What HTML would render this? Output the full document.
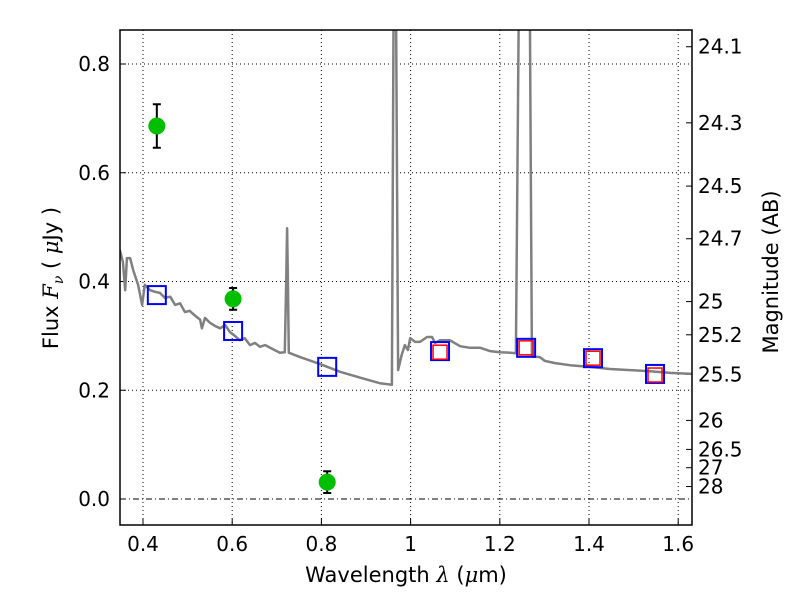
<!DOCTYPE html>
<html><head><meta charset="utf-8"><style>
html,body{margin:0;padding:0;background:#fff;}
svg{display:block;font-family:"DejaVu Sans","Liberation Sans",sans-serif;}
</style></head><body>
<svg id="chart" width="800" height="600" viewBox="0 0 800 600"></svg>
<script>
const xTicks=[0.4,0.6,0.8,1.0,1.2,1.4,1.6];
const xTickLabels=["0.4","0.6","0.8","1","1.2","1.4","1.6"];
const yTicks=[0.0,0.2,0.4,0.6,0.8];
const yTickLabels=["0.0","0.2","0.4","0.6","0.8"];
const magTicks=[24.1,24.3,24.5,24.7,25,25.2,25.5,26,26.5,27,28];
const specLam=[0.348,0.355,0.360,0.364,0.371,0.378,0.389,0.398,0.404,0.416,0.427,0.438,0.449,0.461,0.472,0.483,0.494,0.505,0.517,0.528,0.532,0.539,0.550,0.562,0.573,0.584,0.595,0.606,0.617,0.628,0.640,0.651,0.662,0.674,0.690,0.707,0.718,0.721,0.723,0.725,0.727,0.752,0.797,0.842,0.887,0.931,0.958,0.962,0.967,0.972,0.980,0.987,0.994,0.999,1.010,1.021,1.037,1.048,1.055,1.066,1.088,1.111,1.133,1.156,1.178,1.200,1.223,1.236,1.243,1.248,1.254,1.262,1.267,1.272,1.290,1.301,1.324,1.357,1.402,1.447,1.492,1.537,1.582,1.631];
const specFlux=[0.458,0.436,0.384,0.443,0.443,0.421,0.394,0.357,0.394,0.384,0.381,0.379,0.370,0.372,0.357,0.360,0.344,0.346,0.337,0.330,0.314,0.333,0.324,0.318,0.314,0.320,0.307,0.300,0.292,0.296,0.283,0.287,0.280,0.283,0.276,0.269,0.270,0.400,0.498,0.400,0.269,0.261,0.248,0.234,0.223,0.213,0.210,0.95,0.95,0.237,0.265,0.283,0.274,0.296,0.289,0.289,0.298,0.298,0.287,0.292,0.292,0.281,0.278,0.278,0.272,0.270,0.269,0.268,0.95,0.95,1.0,0.95,0.95,0.262,0.261,0.254,0.250,0.246,0.243,0.239,0.237,0.235,0.232,0.230];
const obsLam=[0.431,0.602,0.813];
const obsFlux=[0.686,0.368,0.031];
const obsErr=[0.040,0.020,0.020];
const modLam=[0.431,0.602,0.813,1.066,1.259,1.409,1.548];
const modFlux=[0.375,0.309,0.243,0.272,0.278,0.259,0.230];
const redLam=[1.066,1.259,1.409,1.548];
const redFlux=[0.270,0.278,0.259,0.228];

const L=120,R=692,T=30,B=525;
const X=v=>143+(v-0.4)*446;
const Y=v=>499-v*543.75;
const magY=m=>Y(Math.pow(10,(23.9-m)/2.5));
const NS="http://www.w3.org/2000/svg";
const svg=document.getElementById('chart');
function mk(tag,attrs,parent){const e=document.createElementNS(NS,tag);for(const k in attrs)e.setAttribute(k,attrs[k]);(parent||svg).appendChild(e);return e;}
const defs=mk('defs',{});const cp=mk('clipPath',{id:'clip'},defs);mk('rect',{x:L,y:T,width:R-L,height:B-T},cp);

xTicks.forEach((t,i)=>{
 const g=mk('line',{x1:X(t),x2:X(t),y1:T,y2:B,stroke:'#000','stroke-width':1,'stroke-dasharray':'1,3'});
 
 
 const tk=mk('line',{x1:X(t),x2:X(t),y1:B,y2:B-6,stroke:'#000'});
 
 
 const tx=mk('text',{x:X(t),y:B+26,'font-size':20,'text-anchor':'middle'});tx.textContent=xTickLabels[i];
 
 
});
yTicks.forEach((t,i)=>{
 const g=mk('line',{x1:L,x2:R,y1:Y(t),y2:Y(t),stroke:'#000','stroke-width':1,'stroke-dasharray':t===0?'6,3,1,3':'1,3'});
 
 
 const tk=mk('line',{x1:L,x2:L+6,y1:Y(t),y2:Y(t),stroke:'#000'});
 
 
 const tx=mk('text',{x:L-10,y:Y(t)+7,'font-size':20,'text-anchor':'end'});tx.textContent=yTickLabels[i];
 
 
});
magTicks.forEach(m=>{
 const y=magY(m);
 const tk=mk('line',{x1:R,x2:R-6,y1:y,y2:y,stroke:'#000'});
 
 
 const tx=mk('text',{x:R+6,y:y+7,'font-size':20});tx.textContent=String(m);
 
 
});

const gp=mk('g',{'clip-path':'url(#clip)'});
const pts=specLam.map((l,i)=>X(l).toFixed(1)+','+Y(specFlux[i]).toFixed(1)).join(' ');
const sp=mk('polyline',{points:pts,fill:'none',stroke:'#808080','stroke-width':2.5,'stroke-linejoin':'round'},gp);



modLam.forEach((l,i)=>{
 const r=mk('rect',{x:X(l)-9,y:Y(modFlux[i])-9,width:18,height:18,fill:'none',stroke:'#0000ff','stroke-width':2},gp);
 
 
});
redLam.forEach((l,i)=>{
 const r=mk('rect',{x:X(l)-7,y:Y(redFlux[i])-7,width:14,height:14,fill:'none',stroke:'#ff0000','stroke-width':1.5},gp);
 
 
});
obsLam.forEach((l,i)=>{
 const x=X(l),y1=Y(obsFlux[i]+obsErr[i]),y2=Y(obsFlux[i]-obsErr[i]);
 const e=mk('path',{d:`M${x},${y1}V${y2}M${x-4},${y1}H${x+4}M${x-4},${y2}H${x+4}`,stroke:'#000','stroke-width':2,fill:'none'},gp);
 
 
 const c=mk('circle',{cx:x,cy:Y(obsFlux[i]),r:8.5,fill:'#00bf00'},gp);
 
 
});

const fr=mk('rect',{x:L,y:T,width:R-L,height:B-T,fill:'none',stroke:'#000','stroke-width':1.5});



const xt=mk('text',{x:406,y:582,'font-size':21,'text-anchor':'middle'});
xt.innerHTML='Wavelength  <tspan font-style="italic" font-family="DejaVu Serif, serif">λ</tspan> (<tspan font-style="italic" font-family="DejaVu Serif, serif">μ</tspan>m)';


const yt=mk('text',{transform:'translate(58,278) rotate(-90)','font-size':21,'text-anchor':'middle'});
yt.innerHTML='Flux  <tspan font-style="italic" font-family="DejaVu Serif, serif">F</tspan><tspan font-style="italic" font-size="14" dy="5" font-family="DejaVu Serif, serif">ν</tspan><tspan dy="-5">  ( </tspan><tspan font-style="italic" font-family="DejaVu Serif, serif">μ</tspan>Jy )';


const rt=mk('text',{transform:'translate(778,272) rotate(-90)','font-size':21,'text-anchor':'middle'});
rt.textContent='Magnitude (AB)';


</script>
</body></html>
